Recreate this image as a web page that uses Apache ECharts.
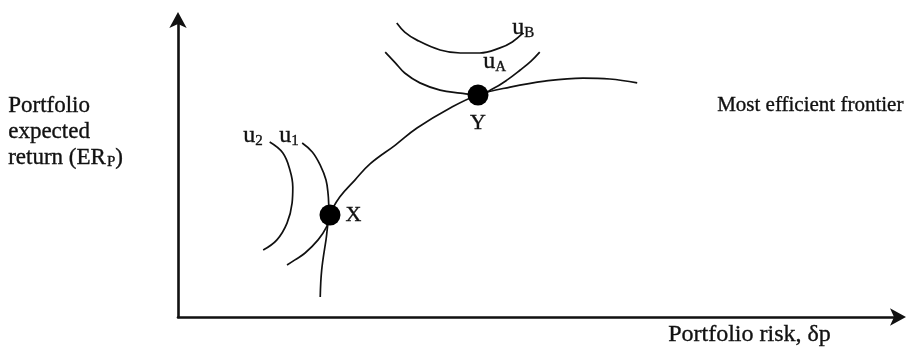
<!DOCTYPE html>
<html><head><meta charset="utf-8">
<script src="https://cdn.jsdelivr.net/npm/echarts@6/dist/echarts.min.js"></script>
<style>html,body{margin:0;padding:0;background:#fff}#c{width:915px;height:349px}</style>
</head><body><div id="c"></div>
<script>
// Data (abstract units: risk 0-100, expected return 0-100)
const frontier = [[19.7,6.7],[19.9,15.7],[20.5,25.8],[21.05,34.1],[22.4,40.1],[24.5,45.8],[26.6,51.2],[30.1,57.5],[33.1,63.2],[37.7,69.9],[41.55,74.25],[46.0,76.9],[50.8,78.9],[56.1,79.9],[59.8,79.6],[63.6,78.3]];
const u1 = [[17.2,58.2],[18.6,55.2],[19.7,50.8],[20.5,45.8],[20.8,40.8],[20.9,36.8],[21.05,34.1],[20.5,29.8],[19.4,25.8],[17.6,21.4],[16.2,19.1],[15.1,17.4]];
const u2 = [[12.7,58.5],[14.5,54.9],[15.5,49.2],[15.9,43.5],[15.8,38.1],[15.1,31.4],[13.7,25.8],[11.8,22.4]];
const uA = [[28.7,88.6],[30.1,85.0],[31.4,81.6],[33.5,78.3],[36.3,75.9],[39.1,74.9],[41.55,74.25],[43.6,76.3],[45.6,79.3],[47.4,82.6],[48.9,85.6],[50.1,88.6]];
const uB = [[30.3,98.3],[31.4,95.3],[33.1,92.6],[36.3,89.3],[39.1,88.3],[41.8,88.3],[44.6,90.0],[46.3,92.0],[47.8,95.0]];
const pointNames = ['X','Y'];
const pointValues = [[21.05,34.1],[41.55,74.25]];

const FONT = '"Liberation Serif","DejaVu Serif",serif';
const INK = '#111';
const chart = echarts.init(document.getElementById('c'), null, {renderer:'canvas'});
const lineSeries = (d) => ({type:'line', data:d, smooth:0.4, showSymbol:false, silent:true,
  lineStyle:{color:INK, width:1.7}, z:2});
const gThick = {stroke:INK, lineWidth:0.35};
const sub = {u:Object.assign({fontFamily:FONT,fontSize:24,fill:INK}, gThick), s:Object.assign({fontFamily:FONT,fontSize:15,fill:INK,padding:[10,0,0,0]}, gThick)};
const axisLine = {show:true, onZero:false, lineStyle:{color:INK, width:2.6}, symbol:['none','arrow'], symbolSize:[13,16], symbolOffset:[0,6]};
chart.setOption({
  animation:false,
  backgroundColor:'#fff',
  grid:{left:178, right:15, top:18, bottom:32},
  xAxis:{type:'value', min:0, max:100, axisLine:axisLine, axisTick:{show:false}, axisLabel:{show:false}, splitLine:{show:false}},
  yAxis:{type:'value', min:0, max:100, axisLine:axisLine, axisTick:{show:false}, axisLabel:{show:false}, splitLine:{show:false}},
  series:[
    lineSeries(frontier), lineSeries(u1), lineSeries(u2), lineSeries(uA), lineSeries(uB),
    {type:'scatter', symbolSize:21, itemStyle:{color:'#000', opacity:1}, z:5,
      data:[
        {name:pointNames[0], value:pointValues[0], label:{position:'right', distance:5}},
        {name:pointNames[1], value:pointValues[1], label:{position:'bottom', distance:7}}],
      label:{show:true, formatter:'{b}', fontFamily:FONT, fontSize:22, color:INK, textBorderColor:INK, textBorderWidth:0.35}},
  ],
  graphic:[
    {type:'text', left:8, top:94, style:{rich:{t:Object.assign({fontFamily:FONT,fontSize:23,fill:INK,lineHeight:26}, gThick), s:Object.assign({fontFamily:FONT,fontSize:15,fill:INK,padding:[8,0,0,1]}, gThick)},
      text:'{t|Portfolio}\n{t|expected}\n{t|return (ER}{s|P}{t|)}'}},
    {type:'text', left:717, top:95, style:Object.assign({text:'Most efficient frontier', fontFamily:FONT, fontSize:21, fill:INK}, gThick)},
    {type:'text', left:668, top:323, style:Object.assign({text:'Portfolio risk, δp', fontFamily:FONT, fontSize:24, fill:INK}, gThick)},
    {type:'text', left:243, top:124, style:{rich:sub, text:'{u|u}{s|2}'}},
    {type:'text', left:279, top:124, style:{rich:sub, text:'{u|u}{s|1}'}},
    {type:'text', left:483, top:50, style:{rich:sub, text:'{u|u}{s|A}'}},
    {type:'text', left:512, top:16, style:{rich:sub, text:'{u|u}{s|B}'}},
  ]
});
</script></body></html>
